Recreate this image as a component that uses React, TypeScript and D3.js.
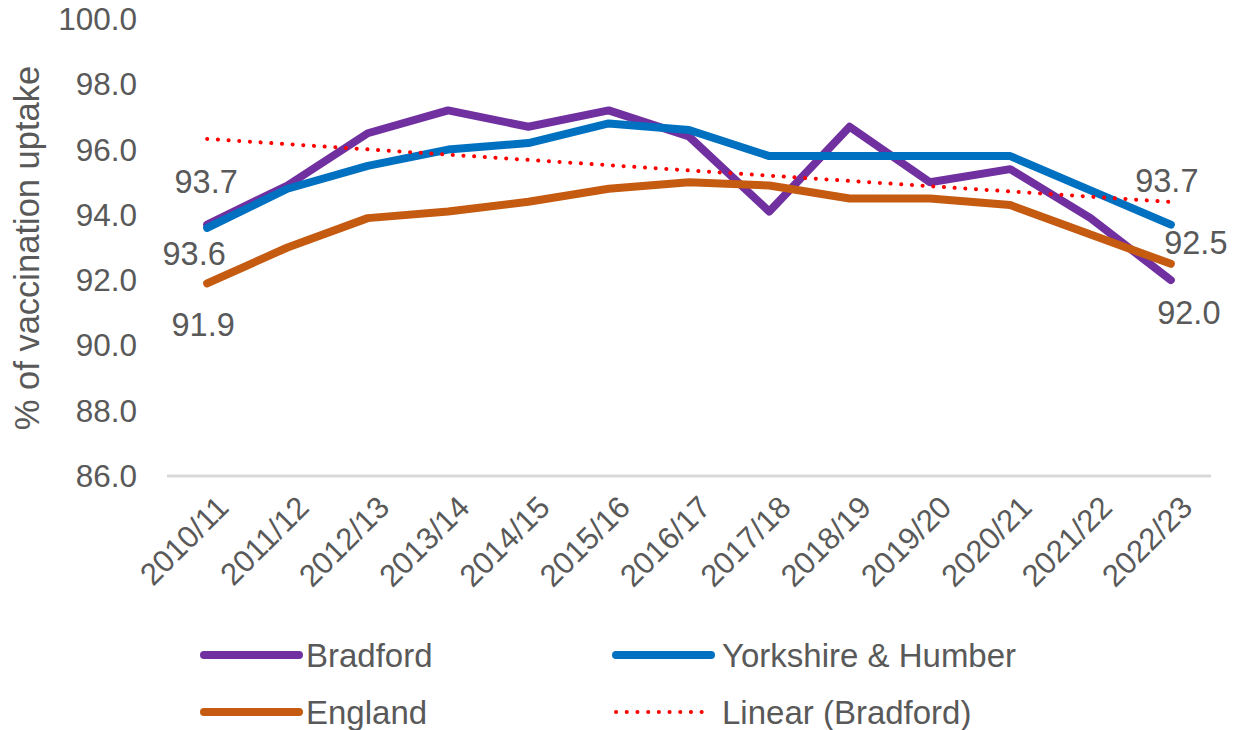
import React, { useEffect, useRef } from "react";
import * as d3 from "d3";

// seasons on the x axis
const seasons = [
  "2010/11", "2011/12", "2012/13", "2013/14", "2014/15", "2015/16", "2016/17",
  "2017/18", "2018/19", "2019/20", "2020/21", "2021/22", "2022/23"
];

// % vaccination uptake per area
const bradford = [93.7, 94.9, 96.5, 97.2, 96.7, 97.2, 96.4, 94.1, 96.7, 95.0, 95.4, 93.9, 92.0];
const yorkshire = [93.6, 94.8, 95.5, 96.0, 96.2, 96.8, 96.6, 95.8, 95.8, 95.8, 95.8, 94.75, 93.7];
const england = [91.9, 93.0, 93.9, 94.1, 94.4, 94.8, 95.0, 94.9, 94.5, 94.5, 94.3, 93.4, 92.5];

const yTicks = [86, 88, 90, 92, 94, 96, 98, 100];

const seriesNames = ["Bradford", "Yorkshire & Humber", "England"];
const trendName = "Linear (Bradford)";

const COLORS: Record<string, string> = {
  Bradford: "#7030A0",
  "Yorkshire & Humber": "#0070C0",
  England: "#C55A11"
};
const TEXT = "#595959";
const FONT = "'Liberation Sans', Arial, sans-serif";

// hand placed data label offsets (first and last point), relative to the point
const labelOffsets: Record<string, [number, number][]> = {
  Bradford: [[-1, -43], [18, 32]],
  "Yorkshire & Humber": [[-13, 26], [-4, -44]],
  England: [[-4, 41], [25, -21]]
};

const W = 1234,
  H = 730;

export default function App() {
  const ref = useRef<SVGSVGElement>(null);

  useEffect(() => {
    const svg = d3.select(ref.current);
    svg.selectAll("*").remove();

    const x = d3.scaleBand().domain(seasons).range([167, 1211]);
    const cx = (s: string) => (x(s) as number) + x.bandwidth() / 2;
    const y = d3.scaleLinear().domain([86, 100]).range([476, 19]);

    // y tick labels (no gridlines, no axis line)
    svg
      .append("g")
      .selectAll("text")
      .data(yTicks)
      .enter()
      .append("text")
      .attr("x", 137)
      .attr("y", d => y(d))
      .attr("dy", "0.35em")
      .attr("text-anchor", "end")
      .attr("font-size", 31.5)
      .attr("fill", TEXT)
      .text(d => d.toFixed(1));

    // y title
    svg
      .append("text")
      .attr("transform", `translate(39, 248) rotate(-90)`)
      .attr("text-anchor", "middle")
      .attr("font-size", 34.5)
      .attr("fill", TEXT)
      .text("% of vaccination uptake");

    // x axis line
    svg
      .append("line")
      .attr("x1", x.range()[0])
      .attr("x2", x.range()[1])
      .attr("y1", y(86))
      .attr("y2", y(86))
      .attr("stroke", "#D9D9D9")
      .attr("stroke-width", 3);

    // x labels, rotated
    svg
      .append("g")
      .selectAll("text")
      .data(seasons)
      .enter()
      .append("text")
      .attr("transform", d => `translate(${cx(d) + 8}, 494) rotate(-45)`)
      .attr("text-anchor", "end")
      .attr("dy", "0.7em")
      .attr("font-size", 31)
      .attr("fill", TEXT)
      .text(d => d);

    const line = d3
      .line<number>()
      .x((_, i) => cx(seasons[i]))
      .y(d => y(d));

    const data: Record<string, number[]> = {
      Bradford: bradford,
      "Yorkshire & Humber": yorkshire,
      England: england
    };

    seriesNames.forEach(name => {
      svg
        .append("path")
        .attr("d", line(data[name]))
        .attr("fill", "none")
        .attr("stroke", COLORS[name])
        .attr("stroke-width", 8)
        .attr("stroke-linejoin", "round")
        .attr("stroke-linecap", "round");
    });

    // linear trend of Bradford (least squares)
    const idx = bradford.map((_, i) => i);
    const mx = d3.mean(idx) as number;
    const my = d3.mean(bradford) as number;
    const slope =
      (d3.sum(idx, i => (i - mx) * (bradford[i] - my)) as number) /
      (d3.sum(idx, i => (i - mx) * (i - mx)) as number);
    const trend = idx.map(i => my + slope * (i - mx));
    svg
      .append("path")
      .attr("d", line(trend))
      .attr("fill", "none")
      .attr("stroke", "#FF0000")
      .attr("stroke-width", 4)
      .attr("stroke-linecap", "round")
      .attr("stroke-dasharray", "0.1 10.6");

    // data labels on the first and last points
    seriesNames.forEach(name => {
      const vals = data[name];
      [0, vals.length - 1].forEach((i, k) => {
        const [dx, dy] = labelOffsets[name][k];
        svg
          .append("text")
          .attr("x", cx(seasons[i]) + dx)
          .attr("y", y(vals[i]) + dy)
          .attr("dy", "0.35em")
          .attr("text-anchor", "middle")
          .attr("font-size", 32.5)
          .attr("fill", TEXT)
          .text(vals[i].toFixed(1));
      });
    });

    // legend
    const legendItems = [
      { name: "Bradford", col: 0, row: 0, dotted: false },
      { name: "Yorkshire & Humber", col: 1, row: 0, dotted: false },
      { name: "England", col: 0, row: 1, dotted: false },
      { name: trendName, col: 1, row: 1, dotted: true }
    ];
    const lg = svg.append("g");
    legendItems.forEach(it => {
      const lx = it.col === 0 ? 200 : 612;
      const ly = it.row === 0 ? 655 : 712;
      lg.append("line")
        .attr("x1", lx + 4)
        .attr("x2", lx + (it.dotted ? 93 : 99))
        .attr("y1", ly)
        .attr("y2", ly)
        .attr("stroke", it.dotted ? "#FF0000" : COLORS[it.name])
        .attr("stroke-width", it.dotted ? 4 : 8)
        .attr("stroke-linecap", "round")
        .attr("stroke-dasharray", it.dotted ? "0.1 10.6" : null);
      lg.append("text")
        .attr("x", lx + (it.col === 0 ? 106 : 110))
        .attr("y", ly)
        .attr("dy", "0.35em")
        .attr("font-size", 33)
        .attr("fill", TEXT)
        .text(it.name);
    });
  }, []);

  return (
    <div style={{ position: "absolute", left: 0, top: 0 }}>
      <svg ref={ref} width={W} height={H} style={{ fontFamily: FONT, display: "block", background: "#fff" }} />
    </div>
  );
}
